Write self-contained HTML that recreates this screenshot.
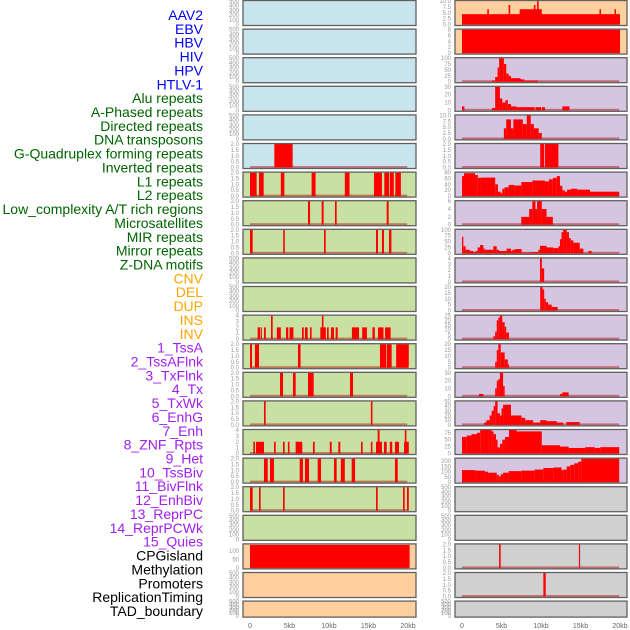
<!DOCTYPE html>
<html><head><meta charset="utf-8">
<style>
html,body{margin:0;padding:0;background:#fff;}
svg{display:block;font-family:"Liberation Sans",sans-serif;}
</style></head>
<body>
<svg id="chart" width="630" height="630" viewBox="0 0 630 630" xmlns="http://www.w3.org/2000/svg"></svg>
<script>
// ---- track labels ----
const labels = ["AAV2","EBV","HBV","HIV","HPV","HTLV-1","Alu repeats","A-Phased repeats","Directed repeats","DNA transposons","G-Quadruplex forming repeats","Inverted repeats","L1 repeats","L2 repeats","Low_complexity A/T rich regions","Microsatellites","MIR repeats","Mirror repeats","Z-DNA motifs","CNV","DEL","DUP","INS","INV","1_TssA","2_TssAFlnk","3_TxFlnk","4_Tx","5_TxWk","6_EnhG","7_Enh","8_ZNF_Rpts","9_Het","10_TssBiv","11_BivFlnk","12_EnhBiv","13_ReprPC","14_ReprPCWk","15_Quies","CPGisland","Methylation","Promoters","ReplicationTiming","TAD_boundary"];
const labelGroups = ["virus","virus","virus","virus","virus","virus","repeat","repeat","repeat","repeat","repeat","repeat","repeat","repeat","repeat","repeat","repeat","repeat","repeat","sv","sv","sv","sv","sv","chrom","chrom","chrom","chrom","chrom","chrom","chrom","chrom","chrom","chrom","chrom","chrom","chrom","chrom","chrom","other","other","other","other","other"];
const xTickValues = [0,5,10,15,20];
const xTickLabels = ["0","5kb","10kb","15kb","20kb"];

// ---- left column tracks: segments [startKb, endKb, value] ----
const leftMax = [500,500,500,500,500,2,2,2,2,500,500,4,2,2,2,4,2,2,500,140,500,500];
const leftBg = ["blue","blue","blue","blue","blue","blue","green","green","green","green","green","green","green","green","green","green","green","green","green","orange","orange","orange"];
const leftSegs = [
 [],[],[],[],[],
 [[3.08,5.4,2]],
 [[0,0.84,2],[1.14,1.73,2],[3.9,4.35,2],[7.8,8.3,2],[12.0,12.6,2],[15.7,16.7,2],[17.0,17.6,2],[17.7,18.2,2],[18.4,19.1,2]],
 [[7.34,7.6,2],[9.07,9.32,2],[10.76,10.97,2],[17.3,17.55,2]],
 [[0,0.34,2],[4.2,4.4,2],[9.37,9.58,2],[15.95,16.2,2],[16.7,16.96,2],[17.6,17.9,2]],
 [],[],
 [[0.97,1.27,2],[1.35,1.5,2],[1.77,2.0,2],[2.66,2.87,4],[3.4,3.9,2],[4.56,4.85,2],[5.0,5.5,2],[6.58,6.8,2],[6.96,7.3,2],[7.6,7.8,2],[8.9,9.6,2],[9.1,9.3,4],[9.75,9.96,2],[10.25,10.63,2],[10.84,11.1,2],[12.9,13.8,2],[14.2,14.8,2],[15.5,15.8,2],[16.2,16.9,2],[17.1,17.8,2]],
 [[0,0.25,2],[0.63,1.14,2],[6.07,6.4,2],[16.45,17.26,2],[17.34,17.93,2],[18.5,20.1,2]],
 [[3.8,4.18,2],[5.44,5.78,2],[7.34,8.06,2],[12.66,13.04,2]],
 [[1.77,1.98,2],[15.3,15.5,2]],
 [[0.42,0.63,2],[0.76,1.77,2],[3.04,3.25,2],[4.18,4.39,2],[4.8,5.0,2],[5.78,6.62,2],[7.97,8.19,2],[10.1,10.34,2],[11.18,11.43,2],[14.05,14.26,2],[15.3,15.5,2],[15.95,16.7,2],[16.16,16.4,4],[16.96,17.3,2],[17.7,18.0,2],[18.35,18.86,2],[19.5,20.1,2],[19.6,19.8,4]],
 [[1.77,2.24,2],[2.53,3.04,2],[6.29,6.7,2],[6.96,7.47,2],[8.57,8.99,2],[10.63,10.97,2],[11.5,12.0,2],[12.87,13.3,2],[18.35,18.7,2]],
 [[0,0.34,2],[1.14,1.35,2],[4.18,4.39,2],[15.95,16.16,2],[19.37,19.58,2],[19.87,20.1,2]],
 [],
 [[0,20.2,137]],
 [],[]
];

// ---- right column tracks ----
const rightMax = [10,8,100,30,10,2,80,6,100,4,20,25,20,30,50,85,225,500,500,2,2,500];
const rightBg = ["orange","orange","purple","purple","purple","purple","purple","purple","purple","purple","purple","purple","purple","purple","purple","purple","purple","gray","gray","gray","gray","gray"];
const rightSegs = [
 [[0,20,4.4],[3.2,3.4,6.5],[5.9,6.1,8.3],[7.3,10.1,6.5],[9.1,9.3,8.3],[9.5,9.7,10],[17.4,17.6,6.5],[19.3,19.5,6.5]],
 [[0,20,8]],
 [[3.8,4.2,5],[4.2,4.5,20],[4.5,4.7,60],[4.7,5.3,100],[5.3,5.6,75],[5.6,5.9,35],[5.9,6.2,25],[6.2,7.4,15],[7.4,7.9,10],[7.9,9.6,5]],
 [[0,0.3,5],[3.8,4.2,3],[4.2,4.8,30],[4.8,5.1,15],[5.1,5.5,10],[5.5,5.8,13],[5.8,6.2,8],[6.2,6.9,5],[6.9,9.2,4],[9.3,10.0,4],[10.1,10.5,4],[12.7,13.6,5]],
 [[5.3,5.6,4.5],[5.6,6.2,8.3],[6.2,6.5,4.5],[6.5,7.7,8.3],[7.7,8.2,6.3],[8.2,8.7,10],[8.7,9.1,6.3],[9.1,9.7,4.5],[9.7,10.1,2.5]],
 [[9.9,10.4,2],[10.5,12.2,2]],
 [[0,0.25,68],[0.25,1.65,78],[1.65,2.0,72],[2.0,2.4,62],[2.4,4.2,63],[4.2,4.55,40],[4.55,4.9,15],[4.9,5.1,10],[5.1,5.4,25],[5.4,5.9,30],[5.9,6.6,38],[6.6,7.5,36],[7.5,8.9,48],[8.9,10.5,53],[10.5,11.0,50],[11.0,11.5,57],[11.5,12.0,62],[12.0,12.4,68],[12.4,12.7,35],[12.7,13.0,20],[13.0,13.3,15],[13.3,13.8,22],[13.8,14.6,25],[14.6,16.2,22],[16.2,19.9,15]],
 [[7.5,8.5,2],[8.5,8.9,4],[8.9,9.3,6],[9.3,9.5,4],[9.5,10.1,6],[10.1,10.7,4],[10.7,11.5,2]],
 [[0,0.17,70],[0.17,0.46,30],[0.46,1.0,15],[1.0,1.43,10],[1.43,1.73,5],[1.73,1.98,10],[1.98,2.28,25],[2.28,2.7,35],[2.7,2.9,20],[2.9,3.97,15],[3.97,4.39,30],[4.39,4.68,15],[4.68,5.65,10],[5.65,6.2,20],[6.2,6.37,10],[6.37,6.7,15],[6.7,7.55,18],[7.55,8.73,3],[8.73,9.66,5],[9.66,9.87,15],[9.87,10.7,32],[10.7,11.56,25],[11.56,12.2,22],[12.2,12.4,30],[12.4,12.6,60],[12.6,12.8,90],[12.8,13.25,100],[13.25,13.54,90],[13.54,13.76,65],[13.76,14.1,55],[14.1,14.9,45],[14.9,15.36,20],[15.99,16.4,10]],
 [[9.87,10.1,4],[10.1,10.4,2.3]],
 [[9.9,10.2,22],[10.2,10.4,18],[10.4,10.6,10],[10.6,10.9,7],[10.9,11.35,5],[11.35,12.1,3]],
 [[3.97,4.2,3],[4.2,4.4,8],[4.4,4.6,20],[4.6,4.8,23],[4.8,5.1,25],[5.1,5.4,18],[5.4,5.6,13],[5.6,5.95,7]],
 [[4.2,4.4,5],[4.4,4.6,15],[4.6,4.9,20],[4.9,5.4,13],[5.4,5.8,7],[5.8,5.95,3]],
 [[2.15,2.7,3],[4.2,4.4,10],[4.4,4.6,20],[4.6,4.8,22],[4.8,5.2,30],[5.2,5.4,13],[12.4,12.7,3],[12.7,13.5,5]],
 [[2.8,3.1,5],[3.1,3.5,10],[3.5,3.75,20],[3.75,4.0,30],[4.0,4.2,40],[4.2,4.5,50],[4.5,4.8,25],[4.8,5.0,20],[5.0,5.2,35],[5.2,6.2,43],[6.2,7.55,20],[7.55,8.0,15],[8.0,9.0,10],[9.0,9.9,5],[9.9,10.7,10],[10.7,12.0,8],[12.0,12.8,5],[13.2,14.9,6]],
 [[0,0.6,60],[0.6,1.2,65],[1.2,1.9,70],[1.9,2.3,75],[2.3,2.6,85],[2.6,3.3,90],[3.3,3.75,88],[3.75,4.0,80],[4.0,4.3,70],[4.3,4.5,50],[4.5,4.8,22],[4.8,5.1,35],[5.1,5.45,50],[5.45,5.95,60],[5.95,6.9,85],[6.9,10.1,80],[10.1,12.4,30],[12.4,13.5,25],[13.5,15.6,20],[15.6,16.8,23],[16.8,17.5,20],[17.5,19.9,23]],
 [[0,1.65,115],[1.65,2.9,110],[2.9,3.3,100],[3.3,4.4,90],[4.4,4.65,70],[4.65,4.9,55],[4.9,5.2,75],[5.2,5.9,90],[5.9,7.55,105],[7.55,9.2,110],[9.2,10.3,120],[10.3,11.6,135],[11.6,12.6,140],[12.6,12.8,115],[12.8,13.25,120],[13.25,13.7,150],[13.7,14.2,165],[14.2,14.7,180],[14.7,15.1,195],[15.1,19.9,225]],
 [],[],
 [[4.7,4.9,2],[14.8,14.95,2]],
 [[10.3,10.6,2]],
 []
];

const bgColors = {blue:"#c8e4ec",green:"#c8e0a2",orange:"#ffd09e",purple:"#d5c5e1",gray:"#d0d0d0"};
const labelColors = {virus:"#0000ff",repeat:"#006400",sv:"#ffa500",chrom:"#a020f0",other:"#000000"};

const NS="http://www.w3.org/2000/svg";
const svg=document.getElementById('chart');
function mk(tag,attrs,parent){const e=document.createElementNS(NS,tag);for(const k in attrs)e.setAttribute(k,attrs[k]);(parent||svg).appendChild(e);return e;}

// labels
labels.forEach((t,k)=>{
  const el=mk('text',{x:203,y:15+k*13.86+5,'text-anchor':'end','font-size':14,fill:labelColors[labelGroups[k]]});
  
  
  el.textContent=t;
});

function ticksFor(max){
  if(max===500) return [[0,"0"],[100,"100"],[200,"200"],[300,"300"],[400,"400"],[500,"500"]];
  if(max===2) return [[0,"0.0"],[0.5,"0.5"],[1,"1.0"],[1.5,"1.5"],[2,"2.0"]];
  if(max===4) return [[0,"0"],[1,"1"],[2,"2"],[3,"3"],[4,"4"]];
  if(max===10) return [[0,"0.0"],[2.5,"2.5"],[5,"5.0"],[7.5,"7.5"],[10,"10.0"]];
  if(max===8) return [[0,"0"],[2,"2"],[4,"4"],[6,"6"],[8,"8"]];
  if(max===100) return [[0,"0"],[25,"25"],[50,"50"],[75,"75"],[100,"100"]];
  if(max===30) return [[0,"0"],[10,"10"],[20,"20"],[30,"30"]];
  if(max===80) return [[0,"0"],[20,"20"],[40,"40"],[60,"60"],[80,"80"]];
  if(max===6) return [[0,"0"],[2,"2"],[4,"4"],[6,"6"]];
  if(max===20) return [[0,"0"],[5,"5"],[10,"10"],[15,"15"],[20,"20"]];
  if(max===25) return [[0,"0"],[5,"5"],[10,"10"],[15,"15"],[20,"20"],[25,"25"]];
  if(max===50) return [[0,"0"],[10,"10"],[20,"20"],[30,"30"],[40,"40"],[50,"50"]];
  if(max===85) return [[0,"0"],[25,"25"],[50,"50"],[75,"75"]];
  if(max===225) return [[0,"0"],[50,"50"],[100,"100"],[150,"150"],[200,"200"]];
  if(max===140) return [[0,"0"],[50,"50"],[100,"100"]];
  return [[0,"0"],[max,String(max)]];
}

function drawPanel(col,r,max,bg,segs){
  const px0 = col===0?243:455, px1 = col===0?416:627;
  const zeroX = col===0?250:462, kbW = 7.9;
  const top = 0.5 + r*28.6, h = (r===21)?16:25, bottom = top+h;
  const g=mk('g',{});
  
  
  mk('rect',{x:px0,y:top,width:px1-px0,height:h,fill:bgColors[bg]},g);
  const yv=v=>bottom-1-(v/max)*(h-1.5);
  const xk=k=>zeroX+k*kbW;
  if(segs.length){
    mk('rect',{x:xk(0),y:yv(0)-1.5,width:xk(19.9)-xk(0),height:2,fill:"rgba(170,0,0,0.45)"},g);
  }
  segs.forEach(s=>{
    const b=mk('rect',{x:xk(s[0]),y:yv(Math.min(s[2],max)),width:Math.max(0.8,xk(s[1])-xk(s[0])),height:yv(0)-yv(Math.min(s[2],max)),fill:"#ff0000"},g);
    
    
  });
  mk('rect',{x:px0,y:top,width:px1-px0,height:h,fill:"none",stroke:"#606060","stroke-width":1.3},g);
  ticksFor(max).forEach(t=>{
    const tl=mk('text',{x:px0-4,y:yv(t[0])+2,'text-anchor':'end','font-size':6,fill:"#999"},g);
    
    
    tl.textContent=t[1];
  });
}
for(let r=0;r<22;r++){
  drawPanel(0,r,leftMax[r],leftBg[r],leftSegs[r]);
  drawPanel(1,r,rightMax[r],rightBg[r],rightSegs[r]);
}
// x axis ticks
[250,462].forEach((z,ci)=>{
  xTickValues.forEach((v,i)=>{
    const t=mk('text',{x:z+v*7.9,y:628,'text-anchor':'middle','font-size':7,fill:"#666"});
    
    
    t.textContent=xTickLabels[i];
  });
});
</script>
</body></html>
